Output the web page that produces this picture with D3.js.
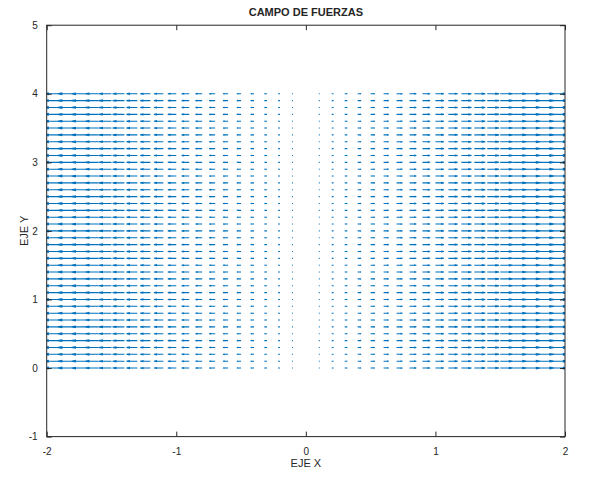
<!DOCTYPE html>
<html>
<head>
<meta charset="utf-8">
<script src="https://cdn.jsdelivr.net/npm/d3@7/dist/d3.min.js"></script>
<style>
  html, body { margin: 0; padding: 0; background: #fff; }
  svg { display: block; }
  text { font-family: "Liberation Sans", Arial, Helvetica, sans-serif; fill: #262626; }
</style>
</head>
<body>
<svg id="chart" width="591" height="479"></svg>
<script>
// Grid of arrow origins (x columns, y rows)
const gridX = [-1.9,-1.8,-1.7,-1.6,-1.5,-1.4,-1.3,-1.2,-1.1,-1.0,-0.9,-0.8,-0.7,-0.6,-0.5,-0.4,-0.3,-0.2,-0.1,0,
               0.1,0.2,0.3,0.4,0.5,0.6,0.7,0.8,0.9,1.0,1.1,1.2,1.3,1.4,1.5,1.6,1.7,1.8,1.9];
const gridY = [0,0.1,0.2,0.3,0.4,0.5,0.6,0.7,0.8,0.9,1.0,1.1,1.2,1.3,1.4,1.5,1.6,1.7,1.8,1.9,2.0,
               2.1,2.2,2.3,2.4,2.5,2.6,2.7,2.8,2.9,3.0,3.1,3.2,3.3,3.4,3.5,3.6,3.7,3.8,3.9,4.0];
// Horizontal field component per column (same for every row), vertical component zero
const fieldU = [-1.9,-1.8,-1.7,-1.6,-1.5,-1.4,-1.3,-1.2,-1.1,-1.0,-0.9,-0.8,-0.7,-0.6,-0.5,-0.4,-0.3,-0.2,-0.1,0,
                0.1,0.2,0.3,0.4,0.5,0.6,0.7,0.8,0.9,1.0,1.1,1.2,1.3,1.4,1.5,1.6,1.7,1.8,1.9];
const fieldV = [0,0,0,0,0,0,0,0,0,0,0,0,0,0,0,0,0,0,0,0,0,0,0,0,0,0,0,0,0,0,0,0,0,0,0,0,0,0,0];
const xTicks = [-2,-1,0,1,2];
const yTicks = [-1,0,1,2,3,4,5];
const titleText = "CAMPO DE FUERZAS";
const xLabel = "EJE X";
const yLabel = "EJE Y";

const svg = d3.select("#chart");
const L = 46.7, R = 565, T = 25.2, B = 436.6;
const x = d3.scaleLinear().domain([-2, 2]).range([L, R]);
const y = d3.scaleLinear().domain([-1, 5]).range([B, T]);
const axisColor = "#262626";
const arrowColor = "#0072BD";

// quiver-style autoscale
const dx = (d3.max(gridX) - d3.min(gridX)) / gridX.length;
const dy = (d3.max(gridY) - d3.min(gridY)) / gridY.length;
const maxLen = d3.max(fieldU.map((u, i) => Math.hypot(u, fieldV[i])));
const s = 0.9 * Math.hypot(dx, dy) / maxLen;
const arrowsize = 0.33;

svg.append("defs").append("clipPath").attr("id", "clip")
  .append("rect").attr("x", L).attr("y", T).attr("width", R - L).attr("height", B - T);

const g = svg.append("g").attr("clip-path", "url(#clip)");
const arrows = [];
gridY.forEach(yy => {
  gridX.forEach((xx, i) => {
    const u = fieldU[i] * s, v = fieldV[i] * s;
    arrows.push({x0: xx, y0: yy, u, v});
  });
});
const pathStr = arrows.map(a => {
  const xe = a.x0 + a.u, ye = a.y0 + a.v;
  const xt = a.x0 + a.u * (1 - arrowsize), yt = a.y0 + a.v * (1 - arrowsize);
  const xa1 = xt + a.v * arrowsize / 3, ya1 = yt - a.u * arrowsize / 3;
  const xa2 = xt - a.v * arrowsize / 3, ya2 = yt + a.u * arrowsize / 3;
  return `M${x(a.x0)},${y(a.y0)}L${x(xe)},${y(ye)}` +
         `M${x(xa1)},${y(ya1)}L${x(xe)},${y(ye)}L${x(xa2)},${y(ya2)}`;
}).join("");
g.append("path").attr("d", pathStr).attr("fill", "none")
  .attr("stroke", arrowColor).attr("stroke-width", 1.1);

// Axes (box with inward ticks)
const tickLen = 5;
svg.append("rect").attr("x", L).attr("y", T).attr("width", R - L).attr("height", B - T)
  .attr("fill", "none").attr("stroke", axisColor).attr("stroke-width", 1);

const fmt = d => String(d);
const axBottom = d3.axisBottom(x).tickValues(xTicks).tickSize(-tickLen).tickPadding(tickLen + 6).tickFormat(fmt);
const axTop = d3.axisTop(x).tickValues(xTicks).tickSize(-tickLen).tickFormat("");
const axLeft = d3.axisLeft(y).tickValues(yTicks).tickSize(-tickLen).tickPadding(tickLen + 4).tickFormat(fmt);
const axRight = d3.axisRight(y).tickValues(yTicks).tickSize(-tickLen).tickFormat("");

function styleAxis(sel) {
  sel.select(".domain").remove();
  sel.selectAll(".tick line").attr("stroke", axisColor);
  sel.selectAll(".tick text").attr("fill", axisColor)
    .style("font-family", '"Liberation Sans", Arial, sans-serif').style("font-size", "10px");
}
svg.append("g").attr("transform", `translate(0,${B})`).call(axBottom).call(styleAxis);
svg.append("g").attr("transform", `translate(0,${T})`).call(axTop).call(styleAxis);
svg.append("g").attr("transform", `translate(${L},0)`).call(axLeft).call(styleAxis);
svg.append("g").attr("transform", `translate(${R},0)`).call(axRight).call(styleAxis);

// Labels
svg.append("text").attr("x", (L + R) / 2).attr("y", 15.5).attr("text-anchor", "middle")
  .style("font-size", "11px").style("font-weight", "bold").text(titleText);
svg.append("text").attr("x", (L + R) / 2).attr("y", 467).attr("text-anchor", "middle")
  .style("font-size", "11px").text(xLabel);
svg.append("text").attr("transform", `translate(27.5,${(T + B) / 2}) rotate(-90)`)
  .attr("text-anchor", "middle").style("font-size", "11px").text(yLabel);
</script>
</body>
</html>
